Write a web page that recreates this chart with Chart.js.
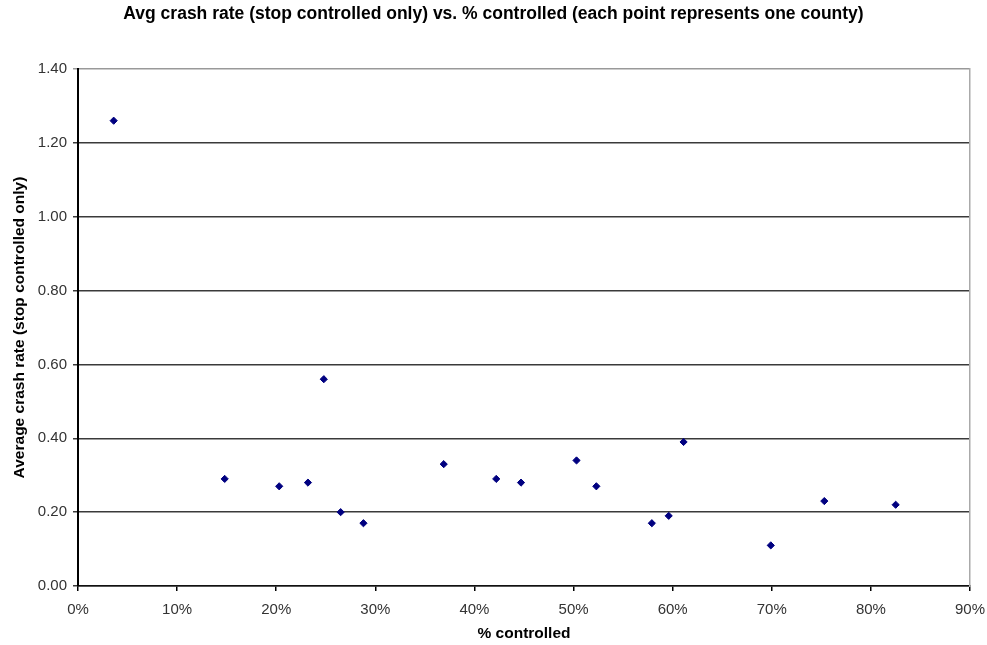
<!DOCTYPE html>
<html>
<head>
<meta charset="utf-8">
<script src="https://cdn.jsdelivr.net/npm/chart.js@4/dist/chart.umd.min.js"></script>
<style>
  html, body { margin: 0; padding: 0; background: #fff; }
  #wrap { width: 987px; height: 645px; }
</style>
</head>
<body>
<div id="wrap"><canvas id="chart" width="987" height="645"></canvas></div>
<script>
/* ── Data (one point per county) ── */
const pctControlled = [3.6, 14.8, 20.3, 23.2, 24.8, 26.5, 28.8, 36.9, 42.2, 44.7, 50.3, 52.3, 57.9, 59.6, 61.1, 69.9, 75.3, 82.5];
const crashRate     = [1.26, 0.29, 0.27, 0.28, 0.56, 0.20, 0.17, 0.33, 0.29, 0.28, 0.34, 0.27, 0.17, 0.19, 0.39, 0.11, 0.23, 0.22];

const TITLE   = "Avg crash rate (stop controlled only) vs. % controlled (each point represents one county)";
const X_TITLE = "% controlled";
const Y_TITLE = "Average crash rate (stop controlled only)";

const FONT = "'Liberation Sans', Arial, sans-serif";
const MARK = "#000080";

const points = pctControlled.map((x, i) => ({ x, y: crashRate[i] }));

new Chart(document.getElementById("chart").getContext("2d"), {
  type: "scatter",
  data: {
    datasets: [{
      data: points,
      pointStyle: "rectRot",
      pointRadius: 3.6,
      pointHoverRadius: 3.6,
      backgroundColor: MARK,
      borderColor: MARK,
      borderWidth: 1,
    }]
  },
  options: {
    responsive: false,
    animation: false,
    layout: { padding: 0 },
    plugins: {
      legend: { display: false },
      tooltip: { enabled: false },
      title: {
        display: true,
        text: TITLE,
        color: "#000",
        font: { family: FONT, size: 17.5, weight: "bold" },
        padding: { top: 4, bottom: 44 },
      },
    },
    scales: {
      x: {
        type: "linear",
        min: 0, max: 90,
        afterFit: s => { s.height = 59; s.paddingLeft = 0; s.paddingRight = 0; },
        ticks: {
          stepSize: 10,
          padding: 10,
          color: "#333",
          font: { family: FONT, size: 15 },
          callback: v => v + "%",
        },
        grid: { drawOnChartArea: false, drawTicks: true, tickLength: 5, color: "#000", lineWidth: 1.5 },
        border: { color: "#111", width: 1.5 },
        title: {
          display: true,
          text: X_TITLE,
          color: "#000",
          font: { family: FONT, size: 15.5, weight: "bold" },
          padding: { top: 2, bottom: 2 },
        },
      },
      y: {
        min: 0, max: 1.4,
        afterFit: s => { s.width = 78; },
        ticks: {
          stepSize: 0.2,
          padding: 6,
          color: "#333",
          font: { family: FONT, size: 15 },
          callback: v => v.toFixed(2),
        },
        grid: {
          color: c => (c.tick && c.tick.value >= 1.4 ? "#999" : "#3a3a3a"),
          lineWidth: 1.5,
          tickLength: 5,
        },
        border: { color: "#000", width: 2 },
        title: {
          display: true,
          text: Y_TITLE,
          color: "#000",
          font: { family: FONT, size: 15.5, weight: "bold" },
          padding: { top: 10, bottom: 0 },
        },
      },
      yRight: {
        position: "right",
        min: 0, max: 1.4,
        afterFit: s => { s.width = 17; },
        ticks: { display: false },
        grid: { display: false },
        border: { color: "#aaa", width: 1.5 },
      },
    },
  },
});
</script>
</body>
</html>
